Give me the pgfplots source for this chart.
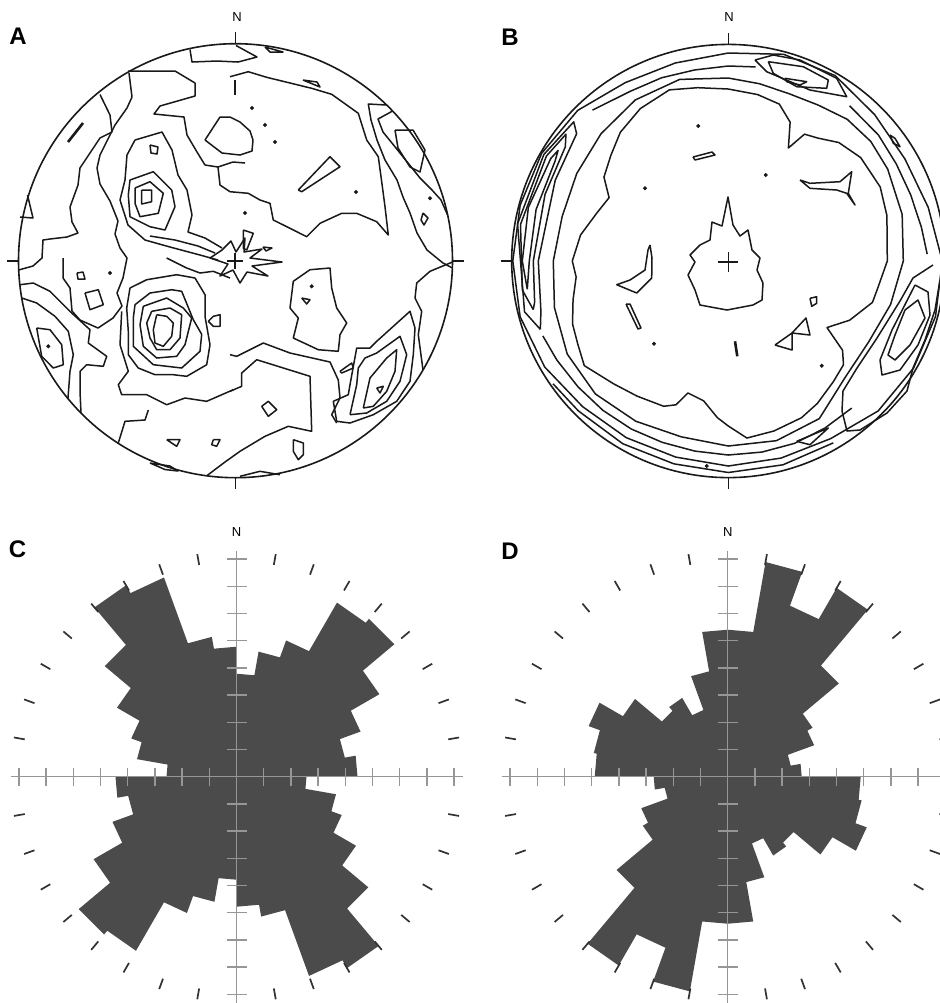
\documentclass[border=0pt]{standalone}
\usepackage{pgfplots}
\usepackage{pgfplotstable}
\pgfplotsset{compat=1.18}
\usepackage{fontspec}
\setmainfont{Liberation Sans}
\definecolor{petal}{RGB}{75,75,75}
\definecolor{axgrey}{RGB}{150,150,150}
\definecolor{dashc}{RGB}{50,50,50}
\definecolor{cline}{RGB}{25,25,25}
\pgfplotsset{
  panel/.style={hide axis, x=0.5pt, y=0.5pt, y dir=reverse, anchor=north west, clip=true},
  cl/.style={draw=cline, line width=0.75pt, line join=round, mark=none, forget plot},
  clt/.style={draw=cline, line width=1.3pt, mark=none, forget plot},
  dots/.style={only marks, mark=*, mark size=0.8pt, cline, forget plot},
  table/bpol/.style={x expr={728.3+\thisrow{r}*sin(\thisrow{a})}, y expr={261-\thisrow{r}*cos(\thisrow{a})}, row sep=\\},
}
\pgfplotstableread{
a r
0 103
10 103
10 127
20 127
20 145
30 145
30 201
40 201
40 206
50 206
50 165
60 165
60 132
70 132
70 110
80 110
80 121
90 121
90 70
100 70
100 101
110 101
110 112
120 112
120 138
130 138
130 172
140 172
140 221
150 221
150 212
160 212
160 142
170 142
170 130
180 130
180 103
190 103
190 127
200 127
200 145
210 145
210 201
220 201
220 206
230 206
230 165
240 165
240 132
250 132
250 110
260 110
260 121
270 121
270 70
280 70
280 101
290 101
290 112
300 112
300 138
310 138
310 172
320 172
320 221
330 221
330 212
340 212
340 142
350 142
350 130
360 130
}\roseC
\pgfplotstableread{
a r
0 147
10 147
10 218
20 218
20 182
30 182
30 218
40 218
40 145
50 145
50 98
60 98
60 92
70 92
70 64
80 64
80 74
90 74
90 133
100 133
100 136
110 136
110 148
120 148
120 121
130 121
130 86
140 86
140 91
150 91
150 71
160 71
160 107
170 107
170 147
180 147
180 147
190 147
190 218
200 218
200 182
210 182
210 218
220 218
220 145
230 145
230 98
240 98
240 92
250 92
250 64
260 64
260 74
270 74
270 133
280 133
280 136
290 136
290 148
300 148
300 121
310 121
310 86
320 86
320 91
330 91
330 71
340 71
340 107
350 107
350 147
360 147
}\roseD
\begin{document}
\begin{tikzpicture}
\useasboundingbox (0,0) rectangle (470pt,-501.5pt);
\clip (0,0) rectangle (470pt,-501.5pt);
% ---------------- Panel A ----------------
\begin{axis}[panel, xmin=0, xmax=470, ymin=0, ymax=501.5, at={(0pt,0pt)}]
\addplot[cl] coordinates {(190,49.5) (192,62) (217,61) (238,62) (257,57) (236,45.5)};
\addplot[cl] coordinates {(265,47) (283,52) (270,52) (265,47)};
\addplot[cl] coordinates {(100,94.5) (110,115) (112,132) (100,138) (80,168) (78,185) (70,207) (72,222) (78,233) (67,237) (50,239) (43,240) (42,258) (33,266) (18.5,270)};
\addplot[cl] coordinates {(27.5,195) (33,218) (20,217)};
\addplot[clt] coordinates {(68,142) (83,123)};
\addplot[cl] coordinates {(128,71) (175,71) (195,83) (195,96) (160,106) (154,114) (184,117) (187,135) (197,152) (205,165) (218,167) (233,162) (245,163)};
\addplot[cl] coordinates {(129,73) (132,97) (127,108) (115,125) (100,155) (97,168) (100,184) (110,201) (118,221) (115,234) (120,248) (127,258) (123,278) (117,293) (122,306) (113,318) (98,328) (80,320) (72,311) (70,288) (63,278) (63,258)};
\addplot[cl] coordinates {(205,140) (222,153) (240,155) (252,151) (253,140) (250,131) (240,122) (230,117) (220,117) (205,140)};
\addplot[cl] coordinates {(150,145) (158,147) (157,154) (151,153) (150,145)};
\addplot[cl] coordinates {(141.7,190) (151.7,190) (151.7,201.7) (141.7,204) (141.7,190)};
\addplot[cl] coordinates {(135,188) (150,181.7) (163.3,193.3) (158.3,213.3) (140,216.7) (135,203.3) (135,188)};
\addplot[cl] coordinates {(130,180) (153.3,171.7) (171.7,190) (175,206.7) (165,230) (150,226.7) (130,216.7) (128.3,195) (130,180)};
\addplot[cl] coordinates {(135,140) (162,132) (172,150) (178,175) (187,190) (192,215) (188,232) (205,238) (222,248)};
\addplot[cl] coordinates {(135,140) (127,155) (125,180) (120,200) (128,225) (145,240) (170,247) (200,255) (218,260)};
\addplot[cl] coordinates {(150,236) (175,240) (198,246) (215,253)};
\addplot[cl] coordinates {(230,76.7) (248.3,71.7) (266.7,77.3) (311.7,88.3) (331.7,94.3) (358.3,113.3) (366.7,140) (378.3,156.7) (381.7,181.7) (385,206.7) (388.3,235) (376.7,221.7) (356.7,213.3) (341.7,213.3) (320,223.3) (306.7,236.7) (290,228.3) (273.3,220) (270,203.3) (260,200) (248.3,193.3) (230,191.7) (220,185) (218,167)};
\addplot[cl] coordinates {(303,80) (317,82) (320,87) (303,80)};
\addplot[cl] coordinates {(298.3,190) (330,156.7) (340,166.7) (301.7,191.7) (298.3,190)};
\addplot[clt] coordinates {(235,80) (235,95)};
\addplot[dots] coordinates {(252,108) (265,125) (275,142) (356,192) (245,213) (311.7,286.3) (48.3,346.3) (110,273) (430,198.3)};
\addplot[cl] coordinates {(386.6,105) (368.3,104) (371,120) (377,140) (385,160) (397,180) (403,197) (410,213) (417,233) (427,250) (443,263) (452.4,268)};
\addplot[cl] coordinates {(392.6,111) (378,119) (383,132) (396,148) (408,163) (420,178) (432,190) (441,200) (447.6,215)};
\addplot[cl] coordinates {(395,130) (413,130) (425,150) (420,172) (410,167) (398,148) (395,130)};
\addplot[cl] coordinates {(423,213) (428,218) (424,225) (421,220) (423,213)};
\addplot[cl] coordinates {(293.3,281.3) (310,269.7) (330,268) (331.7,288) (336.7,308) (346.7,323) (340,334.7) (338.3,351.3) (318.3,349.7) (293.3,338) (298.3,318) (290,308) (293.3,281.3)};
\addplot[cl] coordinates {(301.7,298) (310,299.7) (306.7,304) (301.7,298)};
\addplot[cl] coordinates {(261.7,406.3) (268.3,401.3) (276.7,409.7) (268.3,416.3) (261.7,406.3)};
\addplot[cl] coordinates {(293.3,439.7) (303.3,443) (303.3,454.7) (298.3,459.7) (293.3,451.3) (293.3,439.7)};
\addplot[cl] coordinates {(340,371.3) (351.7,363) (353.3,368) (341.7,373) (340,371.3)};
\addplot[cl] coordinates {(376.7,388) (383.3,386.3) (380,393) (376.7,388)};
\addplot[cl] coordinates {(363.3,408) (370,378) (386.7,358) (396.7,349.7) (395,371.3) (386.7,391.3) (373.3,406.3) (363.3,408)};
\addplot[cl] coordinates {(350,414.7) (356.7,384.7) (358.3,368) (365,358) (376.7,353) (400,336.3) (406.7,354.7) (400,381.3) (386.7,401.3) (366.7,413) (350,414.7)};
\addplot[cl] coordinates {(336.7,421.3) (333.3,401.3) (348.3,394.7) (350,384.7) (356.7,348) (370,348) (376.7,341.3) (410,311.3) (415,328) (413.3,354.7) (410,381.3) (396.7,401.3) (373.3,414.7) (350,423) (336.7,421.3)};
\addplot[cl] coordinates {(452.5,262) (430,271.3) (416.7,283) (415,298) (421.7,311.3) (418.3,334.7) (423,370)};
\addplot[cl] coordinates {(230,354.7) (236.7,356.3) (263.3,343) (290,353) (330,362) (338.3,380) (340,398) (331.7,414.7) (336.7,423)};
\addplot[cl] coordinates {(230,391.3) (241.7,386.3) (241.7,373) (256.7,359.7) (310,376.3) (311.7,431.3) (288.3,426.3) (265,436.3) (240,451.3) (225,462) (206.7,475.8)};
\addplot[cl] coordinates {(240,476.3) (260,471.3) (280,474.7)};
\addplot[cl] coordinates {(77,273) (83,272) (85,279) (78,279) (77,273)};
\addplot[cl] coordinates {(85,293) (98.3,289.7) (103.3,304.7) (90,309.7) (85,293)};
\addplot[cl] coordinates {(20,284.7) (33.3,283) (50,291.3) (71.7,313) (90,329.7) (88.3,343) (106.7,356.3) (103.3,366.3) (86.7,364.7) (80,371.3) (80,391.3) (81,413)};
\addplot[cl] coordinates {(21.7,298) (36.7,303) (55,316.3) (68.3,331.3) (73.3,354.7) (70,371.3) (68,398)};
\addplot[cl] coordinates {(36.7,328) (50,329.7) (61.7,344.7) (63.3,364.7) (53.3,368) (41.7,356.3) (36.7,328)};
\addplot[cl] coordinates {(156.7,314.7) (166.7,316.3) (173.3,323) (171.7,336.3) (163.3,346.3) (155,343) (153.3,329.7) (156.7,314.7)};
\addplot[cl] coordinates {(151.7,311.3) (170,308) (181.7,314.7) (180,338) (170,349.7) (156.7,349.7) (150,338) (146.7,323) (151.7,311.3)};
\addplot[cl] coordinates {(143.3,306.3) (166.7,298) (183.3,308) (191.7,318) (185,344.7) (176.7,356.3) (156.7,358) (143.3,346.3) (140,324.7) (143.3,306.3)};
\addplot[cl] coordinates {(135,304.7) (150,293) (171.7,289.7) (181.7,291.3) (193.3,319.7) (201.7,334.3) (200,351.3) (181.7,368) (153.3,364.7) (133.3,346.3) (133.3,318) (135,304.7)};
\addplot[cl] coordinates {(130,288) (146.7,279.7) (176.7,274.7) (195,278) (205,294.7) (205,316.3) (210,344.7) (206.7,364.7) (186.7,376.3) (173.3,374.7) (155,374.7) (138.3,368) (128.3,354.7) (128.3,331.3) (126.7,308) (130,288)};
\addplot[cl] coordinates {(121.7,311.3) (120,344.7) (128.3,371.3) (118.3,384.7) (121.7,394.7) (146.7,394.7) (166.7,404.7) (185,398) (206.7,401.3) (233.3,389.7)};
\addplot[cl] coordinates {(118.3,443) (125,421.3) (145,420) (148.3,410)};
\addplot[cl] coordinates {(166.7,439.7) (180,439.7) (176.7,446.3) (166.7,439.7)};
\addplot[cl] coordinates {(213.3,439.7) (220,439.7) (216.7,446.3) (211.7,444.7) (213.3,439.7)};
\addplot[cl] coordinates {(150,463) (170,466) (178,471) (165,469.5) (150,463)};
\addplot[cl] coordinates {(213.3,316.3) (220,314.7) (220,326.3) (213.3,326.3) (208.3,321.3) (213.3,316.3)};
\addplot[cl] coordinates {(222,250) (231,241) (236,252) (245,238) (244,252) (262,249) (250,258) (282,262) (252,266) (268,276) (247,272) (240,283) (233,270) (220,276) (228,264) (210,258) (222,250)};
\addplot[cl] coordinates {(166.7,258) (186.7,268) (200,273) (213.3,271.3) (230,278)};
\addplot[cl] coordinates {(243.3,230) (253.3,233.3) (246.7,250) (243.3,248.3) (243.3,230)};
\addplot[cl] coordinates {(263,247) (272,248) (266,251) (263,247)};
\end{axis}
% ---------------- Panel B ----------------
\begin{axis}[panel, xmin=470, xmax=940, ymin=0, ymax=501.5, at={(235pt,0pt)}]
\addplot[cl] table[bpol] {a r\\ 0 172\\ 10 169\\ 18 165\\ 24 152\\ 28 128\\ 31 148\\ 36 152\\ 43 162\\ 52 168\\ 64 169\\ 74 165\\ 90 159\\ 100 152\\ 106 150\\ 116 135\\ 124 119\\ 128 145\\ 132 155\\ 139 160\\ 148 168\\ 155 173\\ 165 176\\ 174 178\\ 180 165\\ 184 157\\ 190 142\\ 197 138\\ 200 153\\ 204 159\\ 214 163\\ 223 168\\ 234 178\\ 241 172\\ 248 168\\ 256 160\\ 264 153\\ 270 156\\ 280 150\\ 290 140\\ 298 135\\ 304 150\\ 312 158\\ 320 168\\ 330 176\\ 341 181\\ 350 176\\ 360 172\\};
\addplot[cl] table[bpol] {a r\\ 0 183\\ 10 180\\ 20 178\\ 30 180\\ 40 185\\ 50 186\\ 60 184\\ 75 180\\ 90 175\\ 105 168\\ 120 162\\ 135 165\\ 150 182\\ 165 186\\ 180 185\\ 195 182\\ 210 185\\ 225 188\\ 240 186\\ 255 180\\ 270 175\\ 285 172\\ 300 175\\ 315 180\\ 330 186\\ 345 188\\ 360 183\\};
\addplot[cl] table[bpol] {a r\\ 0 208\\ 15 214\\ 30 214\\ 45 207\\ 60 204\\ 75 207\\ 90 214\\ 105 214.5\\ 120 214\\ 135 212\\ 150 205\\ 165 204\\ 180 205\\ 195 203\\ 210 204\\ 225 206\\ 240 212\\ 255 215.5\\ 270 215.5\\ 285 215.5\\ 300 215.5\\ 315 213\\ 330 206\\ 345 205\\ 360 208\\};
\addplot[cl] table[bpol] {a r\\ 140 192\\ 150 193\\ 160 194\\ 170 194\\ 180 194\\ 190 193\\ 200 193\\ 210 194\\ 220 195\\ 230 196\\ 240 198\\ 248 200\\};
\addplot[cl] table[bpol] {a r\\ 150 210\\ 165 211\\ 180 211.5\\ 195 210\\ 210 211\\ 225 212\\ 235 214\\};
\addplot[cl] table[bpol] {a r\\ 38 197\\ 50 196\\ 60 194\\ 70 194\\ 80 196\\ 88 199\\};
\addplot[cl] table[bpol] {a r\\ 318 203\\ 330 196\\ 340 195\\ 350 194\\ 360 195\\ 8 196\\};
\addplot[cl] table[bpol] {a r\\ 262 203\\ 270 206\\ 285 207\\ 300 205\\ 303 203\\ 300 200\\ 285 199\\ 270 199\\ 262 203\\};
\addplot[cl] table[bpol] {a r\\ 256 201\\ 262 208\\ 280 211\\ 300 210\\ 308 206\\ 305 199\\ 290 195\\ 270 195\\ 258 198\\ 256 201\\};
\addplot[cl] table[bpol] {a r\\ 250 200\\ 256 210\\ 280 214\\ 300 213\\ 312 208\\ 310 198\\ 295 191\\ 270 190\\ 255 194\\ 250 200\\};
\addplot[cl] coordinates {(785,78.3) (806.7,81.7) (800,85) (786.7,81.7) (785,78.3)};
\addplot[cl] coordinates {(768.3,61.7) (803.3,66.7) (828.3,80) (826.7,88.3) (796.7,86.7) (773.3,73.3) (768.3,61.7)};
\addplot[cl] coordinates {(755,60) (773.3,55) (800,60) (836.7,78.3) (846.7,96.7) (810,90) (766.7,71.7) (755,60)};
\addplot[cl] coordinates {(905,310) (918,300) (925,318) (910,345) (895,360) (888,355) (895,335) (905,310)};
\addplot[cl] coordinates {(915,285) (928,292) (930,315) (918,345) (900,370) (882,375) (880,360) (892,330) (915,285)};
\addplot[cl] coordinates {(933,265) (913,278) (900,301) (877,338) (857,368) (843,391) (842,411) (847,431) (860,430) (887,413) (907,391) (913,368) (925,340) (935,310) (940,280)};
\addplot[cl] coordinates {(693,157) (712,152) (715,155) (695,160) (693,157)};
\addplot[cl] coordinates {(800,180) (810,183.3) (840,181.7) (851.7,171.7) (848.3,193.3) (855,205) (846.7,193.3) (836.7,190) (810,188.3) (800,180)};
\addplot[cl] coordinates {(890,135) (895,138.3) (900,146.7) (893.3,143.3) (890,135)};
\addplot[cl] coordinates {(650,245) (652,258) (651.7,278) (636.7,293) (616.7,284.7) (630,280) (645,270) (648,250) (650,245)};
\addplot[cl] coordinates {(626,304) (630,304) (641,328) (638,329) (626,304)};
\addplot[cl] coordinates {(810,298.3) (816.7,296.7) (816.7,303.3) (811.7,306.3) (810,298.3)};
\addplot[cl] coordinates {(775,345) (792,333) (792,350) (775,345)};
\addplot[cl] coordinates {(792,333) (806,318) (810,335) (792,333)};
\addplot[clt] coordinates {(735,341.3) (737.3,356.3)};
\addplot[cl] coordinates {(796.7,441.3) (828.3,428) (810,444.7) (796.7,441.3)};
\addplot[cl] coordinates {(700,245) (710,240) (712,222) (722,226) (728,197) (733,225) (740,236) (748,230) (752,250) (760,258) (757,270) (763,283) (762,300) (753,305) (727,310) (700,305) (695,290) (688,275) (695,262) (690,255) (700,245)};
\addplot[dots] coordinates {(698.3,126) (645,188.3) (765.7,175) (821.7,365.7) (654,343.7) (706.7,466)};
\end{axis}
% ---------------- Panel C ----------------
\begin{axis}[panel, xmin=0, xmax=470, ymin=501.5, ymax=1003, at={(0pt,-250.75pt)}]
\addplot[fill=petal, draw=none, forget plot] table[x expr={236.5+\thisrow{r}*sin(\thisrow{a})}, y expr={776.7-\thisrow{r}*cos(\thisrow{a})}] {\roseC};
\end{axis}
% ---------------- Panel D ----------------
\begin{axis}[panel, xmin=470, xmax=940, ymin=501.5, ymax=1003, at={(235pt,-250.75pt)}]
\addplot[fill=petal, draw=none, forget plot] table[x expr={727.7+\thisrow{r}*sin(\thisrow{a})}, y expr={776.7-\thisrow{r}*cos(\thisrow{a})}] {\roseD};
\end{axis}
% ---------------- frames and labels (pixel units) ----------------
\begin{scope}[x=0.5pt,y=-0.5pt]
\draw[cline, line width=0.8pt] (235.5,260.7) circle[radius=217];
\draw[cline, line width=0.8pt] (235.5,32)--(235.5,43.7) (235.5,477.7)--(235.5,489) (7,260.7)--(18.5,260.7) (452.5,260.7)--(464,260.7);
\draw[cline, line width=0.7pt] (227,261)--(243,261) (235,253)--(235,269);
\draw[cline, line width=0.8pt] (728.3,261) circle[radius=216.6];
\draw[cline, line width=0.8pt] (728.3,33)--(728.3,44.4) (728.3,477.6)--(728.3,489) (500.5,261)--(511.7,261);
\draw[cline, line width=0.7pt] (718.3,262)--(738.3,262) (728.3,252)--(728.3,272);
\node[font=\fontsize{6.5}{7}\selectfont] at (237,17.5) {N};
\node[font=\fontsize{6.5}{7}\selectfont] at (729,17.5) {N};
\node[font=\fontsize{6.5}{7}\selectfont] at (236.5,532) {N};
\node[font=\fontsize{6.5}{7}\selectfont] at (727.7,532) {N};
\node[font=\fontsize{12}{12}\selectfont\bfseries] at (18,36.5) {A};
\node[font=\fontsize{12}{12}\selectfont\bfseries] at (510,37) {B};
\node[font=\fontsize{12}{12}\selectfont\bfseries] at (17.5,549) {C};
\node[font=\fontsize{12}{12}\selectfont\bfseries] at (510,551) {D};
% rose C axes
\draw[axgrey, line width=0.65pt] (10.5,776.7)--(462.5,776.7) (236.5,550.7)--(236.5,1003);
\foreach \k in {1,...,8} {
  \draw[axgrey, line width=0.65pt] ({236.5+27.2*\k},767.7)--({236.5+27.2*\k},785.7);
  \draw[axgrey, line width=0.65pt] ({236.5-27.2*\k},767.7)--({236.5-27.2*\k},785.7);
  \draw[axgrey, line width=0.65pt] (226.5,{776.7-27.2*\k})--(246.5,{776.7-27.2*\k});
  \draw[axgrey, line width=0.65pt] (226.5,{776.7+27.2*\k})--(246.5,{776.7+27.2*\k});
}
\begin{scope}[shift={(236.5,776.7)}]
\foreach \a in {10,20,...,80,100,110,...,170,190,200,...,260,280,290,...,350}
  \draw[dashc, line width=0.85pt] (\a-90:215)--(\a-90:226);
\end{scope}
% rose D axes
\draw[axgrey, line width=0.65pt] (501.7,776.7)--(953.7,776.7) (727.7,550.7)--(727.7,1003);
\foreach \k in {1,...,8} {
  \draw[axgrey, line width=0.65pt] ({727.7+27.2*\k},767.7)--({727.7+27.2*\k},785.7);
  \draw[axgrey, line width=0.65pt] ({727.7-27.2*\k},767.7)--({727.7-27.2*\k},785.7);
  \draw[axgrey, line width=0.65pt] (717.7,{776.7-27.2*\k})--(737.7,{776.7-27.2*\k});
  \draw[axgrey, line width=0.65pt] (717.7,{776.7+27.2*\k})--(737.7,{776.7+27.2*\k});
}
\begin{scope}[shift={(727.7,776.7)}]
\foreach \a in {10,20,...,80,100,110,...,170,190,200,...,260,280,290,...,350}
  \draw[dashc, line width=0.85pt] (\a-90:215)--(\a-90:226);
\end{scope}
\end{scope}
\end{tikzpicture}
\end{document}
